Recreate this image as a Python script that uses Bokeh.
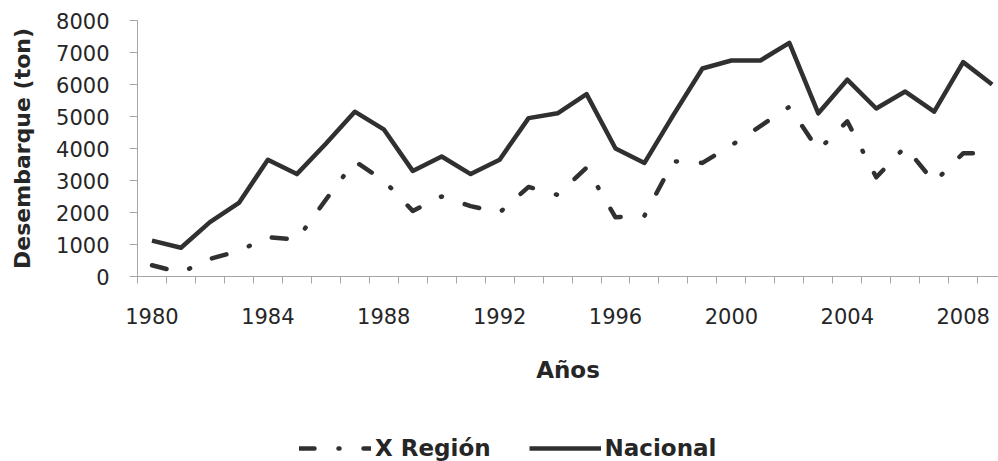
from bokeh.plotting import figure
from bokeh.models import Range1d, FixedTicker, Legend, LegendItem, ColumnDataSource
from bokeh.layouts import column
from bokeh.embed import file_html
from bokeh.resources import INLINE

years = list(range(1980, 2010))
x_region = [350, 120, 550, 800, 1230, 1150, 2400, 3600, 3000, 2050,
            2500, 2200, 2000, 2800, 2550, 3400, 1850, 1900, 3600, 3550,
            4100, 4700, 5300, 3950, 4850, 3100, 4050, 2950, 3850, 3850]
nacional = [1120, 900, 1700, 2300, 3650, 3200, 4150, 5150, 4600, 3300,
            3750, 3200, 3650, 4950, 5100, 5700, 4000, 3550, 5050, 6500,
            6750, 6750, 7300, 5100, 6150, 5250, 5780, 5150, 6700, 6000]
label_years = [1980, 1984, 1988, 1992, 1996, 2000, 2004, 2008]
y_ticks = [0, 1000, 2000, 3000, 4000, 5000, 6000, 7000, 8000]

FONT = "DejaVu Sans"
TXT = "#262626"
AX = "#a6a6a6"
LINE = "#303030"
DASH = "15 24 1 24"

src = ColumnDataSource(dict(year=years, xr=x_region, nac=nacional))

p = figure(width=998, height=401, output_backend="svg", toolbar_location=None,
           x_range=Range1d(1979.5, 2009.22), y_range=Range1d(0, 8000),
           min_border_left=137, min_border_top=20, min_border_bottom=125,
           min_border_right=0)
p.outline_line_color = None
p.xgrid.visible = False
p.ygrid.visible = False

r1 = p.line("year", "xr", source=src, line_color=LINE, line_width=4.5,
            line_dash=DASH, line_cap="round", line_join="round")
r2 = p.line("year", "nac", source=src, line_color=LINE, line_width=4.5,
            line_join="round")

# x axis
xa = p.xaxis[0]
xa.ticker = FixedTicker(ticks=label_years,
                        minor_ticks=[y + 0.5 for y in range(1979, 2010)])
xa.major_tick_line_color = None
xa.minor_tick_line_color = AX
xa.minor_tick_out = 7
xa.minor_tick_in = 0
xa.axis_line_color = AX
xa.major_label_text_font = FONT
xa.major_label_text_font_size = "21px"
xa.major_label_text_color = TXT
xa.major_label_standoff = 24
xa.axis_label = "Años"
xa.axis_label_text_font = FONT
xa.axis_label_text_font_style = "bold"
xa.axis_label_text_font_size = "23px"
xa.axis_label_text_color = TXT
xa.axis_label_standoff = 30

# y axis
ya = p.yaxis[0]
ya.ticker = FixedTicker(ticks=y_ticks)
ya.minor_tick_line_color = None
ya.major_tick_line_color = AX
ya.major_tick_out = 8
ya.major_tick_in = 0
ya.axis_line_color = AX
ya.major_label_text_font = FONT
ya.major_label_text_font_size = "21px"
ya.major_label_text_color = TXT
ya.major_label_standoff = 20
ya.axis_label = "Desembarque (ton)"
ya.axis_label_text_font = FONT
ya.axis_label_text_font_style = "bold"
ya.axis_label_text_font_size = "22px"
ya.axis_label_text_color = TXT
ya.axis_label_standoff = 18

# legend strip below the chart
p2 = figure(width=998, height=60, output_backend="svg", toolbar_location=None,
            x_range=Range1d(0, 1), y_range=Range1d(0, 1),
            min_border_left=0, min_border_right=0, min_border_top=0,
            min_border_bottom=0)
p2.axis.visible = False
p2.grid.visible = False
p2.outline_line_color = None
# legend proxies (data lies outside this strip's ranges, only the swatches show)
l1 = p2.line("year", "xr", source=src, line_color=LINE, line_width=4.5,
             line_dash=DASH, line_cap="round", line_join="round")
l2 = p2.line("year", "nac", source=src, line_color=LINE, line_width=4.5,
             line_join="round")

legend = Legend(items=[LegendItem(label="X Región", renderers=[l1]),
                       LegendItem(label="Nacional", renderers=[l2])],
                orientation="horizontal", location=(162, 0),
                border_line_color=None, background_fill_alpha=0,
                padding=0, margin=0, spacing=38, glyph_width=72,
                glyph_height=20, label_standoff=4,
                label_text_font=FONT, label_text_font_style="bold",
                label_text_font_size="23px", label_text_color=TXT)
p2.add_layout(legend)

layout = column(p, p2, spacing=0)
open("out.html", "w").write(file_html(layout, INLINE))
